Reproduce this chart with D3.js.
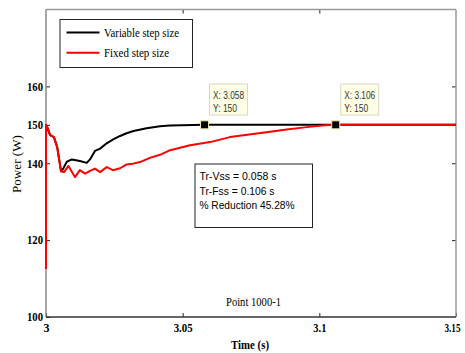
<!DOCTYPE html>
<html>
<head>
<meta charset="utf-8">
<script src="https://cdn.jsdelivr.net/npm/d3@7"></script>
<style>
  html, body { margin: 0; padding: 0; background: #fff; }
  svg { display: block; }
</style>
</head>
<body>
<svg id="chart" width="465" height="353"></svg>
<script>
// Power transient after a step: variable vs fixed step size solver
const seriesNames = ["Variable step size", "Fixed step size"];
const seriesColors = ["#000000", "#ff0000"];

const tVar = [3.000, 3.0015, 3.0029, 3.0041, 3.0055, 3.0063, 3.0076, 3.0095, 3.0124, 3.0149,
              3.0161, 3.0179, 3.0198, 3.0222, 3.0246, 3.0271, 3.0295, 3.0320, 3.0368, 3.0417,
              3.0454, 3.0580, 3.1500];
const pVar = [150, 147.3, 146.8, 144.2, 137.9, 138.6, 140.4, 141.0, 140.6, 140.1,
              141.0, 143.2, 143.8, 145.2, 146.2, 147.1, 147.8, 148.4, 149.1, 149.6,
              149.8, 150, 150];

const tFix = [3.000, 3.000, 3.0008, 3.0015, 3.0029, 3.0041, 3.0055, 3.0066, 3.0082, 3.0106,
              3.0124, 3.0143, 3.0161, 3.0179, 3.0198, 3.0222, 3.0245, 3.0271, 3.0295, 3.0318,
              3.0344, 3.0380, 3.0417, 3.0454, 3.0527, 3.0600, 3.0673, 3.0757, 3.0820, 3.0880,
              3.0954, 3.1020, 3.1060, 3.1500];
const pFix = [112.5, 150, 149, 147.3, 146.8, 144.2, 137.9, 137.7, 139.3, 136.4,
              138.2, 137.3, 138.0, 138.6, 137.7, 139.0, 138.2, 138.7, 139.7, 139.9,
              140.3, 141.4, 142.2, 143.4, 144.7, 145.5, 146.8, 147.6, 148.2, 148.8,
              149.4, 149.9, 150, 150];

const xTicks = [3, 3.05, 3.1, 3.15];
const xTickLabels = ["3", "3.05", "3.1", "3.15"];
const yTicks = [100, 120, 140, 150, 160];

// data tips (settling points)
const tipX = [3.058, 3.106];
const tipY = [150, 150];

const noteLines = ["Tr-Vss = 0.058 s", "Tr-Fss = 0.106 s", "% Reduction 45.28%"];
const caption = "Point 1000-1";

const svg = d3.select("#chart");
const L = 46, R = 456, T = 9.5, B = 317;

const x = d3.scaleLinear().domain([3, 3.15]).range([L, R]);
const y = d3.scaleLinear().domain([100, 180]).range([B, T]);

svg.append("rect").attr("width", 465).attr("height", 353).attr("fill", "#fff");

// fit text to a measured width
function fit(sel, w) {
  sel.attr("textLength", w).attr("lengthAdjust", "spacingAndGlyphs");
  return sel;
}

// axes: ticks pointing inward
const tickFont = "'Liberation Serif', 'Times New Roman', serif";
const xLabelW = [6, 19, 13, 16];
const gx = svg.append("g").attr("transform", `translate(0,${B})`)
  .call(d3.axisBottom(x).tickValues(xTicks).tickSizeInner(-4).tickSizeOuter(0)
        .tickFormat((d, i) => xTickLabels[i]));
gx.select(".domain").remove();
gx.selectAll(".tick line").attr("stroke", "#222");
gx.selectAll(".tick text").attr("y", 6).attr("dy", "0.71em")
  .attr("font-family", tickFont).attr("font-weight", "bold").attr("font-size", 12)
  .attr("fill", "#000").each(function (d, i) {
    const t = d3.select(this).attr("textLength", xLabelW[i]).attr("lengthAdjust", "spacingAndGlyphs");
    // last label is kept inside the page edge
    if (i === xTicks.length - 1) t.attr("text-anchor", "start").attr("x", 444 - R);
  });

const gxt = svg.append("g").attr("transform", `translate(0,${T})`)
  .call(d3.axisTop(x).tickValues(xTicks.slice(1, 3)).tickSizeInner(-4).tickSizeOuter(0).tickFormat(""));
gxt.select(".domain").remove();
gxt.selectAll(".tick line").attr("stroke", "#222");

const gy = svg.append("g").attr("transform", `translate(${L},0)`)
  .call(d3.axisLeft(y).tickValues(yTicks).tickSizeInner(-4).tickSizeOuter(0));
gy.select(".domain").remove();
gy.selectAll(".tick line").attr("stroke", "#222");
gy.selectAll(".tick text").attr("x", -3)
  .attr("font-family", tickFont).attr("font-weight", "bold").attr("font-size", 12)
  .attr("fill", "#000").attr("textLength", 16).attr("lengthAdjust", "spacingAndGlyphs");

const gyr = svg.append("g").attr("transform", `translate(${R},0)`)
  .call(d3.axisRight(y).tickValues(yTicks.slice(1)).tickSizeInner(-4).tickSizeOuter(0).tickFormat(""));
gyr.select(".domain").remove();
gyr.selectAll(".tick line").attr("stroke", "#222");

// plot frame
svg.append("line").attr("x1", L).attr("x2", R).attr("y1", T).attr("y2", T).attr("stroke", "#999").attr("stroke-width", 1.5);
svg.append("line").attr("x1", R).attr("x2", R).attr("y1", T).attr("y2", B).attr("stroke", "#999").attr("stroke-width", 1.5);
svg.append("line").attr("x1", L).attr("x2", L).attr("y1", T).attr("y2", B).attr("stroke", "#888").attr("stroke-width", 1.5);
svg.append("line").attr("x1", L).attr("x2", R).attr("y1", B).attr("y2", B).attr("stroke", "#333").attr("stroke-width", 1.5);

// curves
const line = d3.line().x(d => x(d[0])).y(d => y(d[1]));
const varData = tVar.map((t, i) => [t, pVar[i]]);
const fixData = tFix.map((t, i) => [t, pFix[i]]);
svg.append("path").datum(varData).attr("d", line).attr("fill", "none")
  .attr("stroke", seriesColors[0]).attr("stroke-width", 2).attr("stroke-linejoin", "round");
svg.append("path").datum(fixData).attr("d", line).attr("fill", "none")
  .attr("stroke", seriesColors[1]).attr("stroke-width", 2).attr("stroke-linejoin", "round");

// legend
const lg = svg.append("g");
lg.append("rect").attr("x", 60).attr("y", 19.5).attr("width", 132.5).attr("height", 48)
  .attr("fill", "#fff").attr("stroke", "#222").attr("stroke-width", 1);
seriesNames.forEach((name, i) => {
  const yy = 32.5 + i * 20.3;
  lg.append("line").attr("x1", 66.5).attr("x2", 99.5).attr("y1", yy).attr("y2", yy)
    .attr("stroke", seriesColors[i]).attr("stroke-width", 2);
  fit(lg.append("text").attr("x", 104).attr("y", yy + 4.3)
    .attr("font-family", tickFont).attr("font-size", 13).attr("fill", "#000").text(name), [75, 65][i]);
});

// data tips
const tipFont = "'Liberation Sans', Arial, sans-serif";
tipX.forEach((tx, i) => {
  const px = x(tx), py = y(tipY[i]);
  const bx = px + 5, by = 84;
  svg.append("rect").attr("x", bx).attr("y", by).attr("width", 38).attr("height", 31)
    .attr("fill", "#ffffe6").attr("stroke", "#d8d8c8").attr("stroke-width", 1);
  fit(svg.append("text").attr("x", bx + 3.5).attr("y", by + 15)
    .attr("font-family", tipFont).attr("font-size", 10).attr("fill", "#333")
    .text("X: " + tx.toFixed(3)), 31);
  fit(svg.append("text").attr("x", bx + 3.5).attr("y", by + 27.5)
    .attr("font-family", tipFont).attr("font-size", 10).attr("fill", "#333")
    .text("Y: " + tipY[i]), 24);
  svg.append("rect").attr("x", px - 4).attr("y", py - 4).attr("width", 8).attr("height", 8)
    .attr("fill", "#000").attr("stroke", "#f0eab0").attr("stroke-width", 1);
});

// settling-time note
svg.append("rect").attr("x", 195).attr("y", 164).attr("width", 117.5).attr("height", 63.5)
  .attr("fill", "#fff").attr("stroke", "#222").attr("stroke-width", 1);
noteLines.forEach((s, i) => {
  fit(svg.append("text").attr("x", 199.5).attr("y", 180 + i * 14.5)
    .attr("font-family", tipFont).attr("font-size", 11.5).attr("fill", "#000").text(s),
    [77, 75, 95][i]);
});

// caption and axis titles
fit(svg.append("text").attr("x", 226).attr("y", 306)
  .attr("font-family", tickFont).attr("font-size", 12.5).attr("fill", "#000").text(caption), 55);
fit(svg.append("text").attr("x", 231).attr("y", 349)
  .attr("font-family", tickFont).attr("font-weight", "bold").attr("font-size", 12.5)
  .attr("fill", "#000").text("Time (s)"), 38);
fit(svg.append("text").attr("transform", "translate(21,164) rotate(-90)")
  .attr("text-anchor", "middle")
  .attr("font-family", tickFont).attr("font-size", 12.5)
  .attr("fill", "#000").text("Power (W)"), 58);
</script>
</body>
</html>
